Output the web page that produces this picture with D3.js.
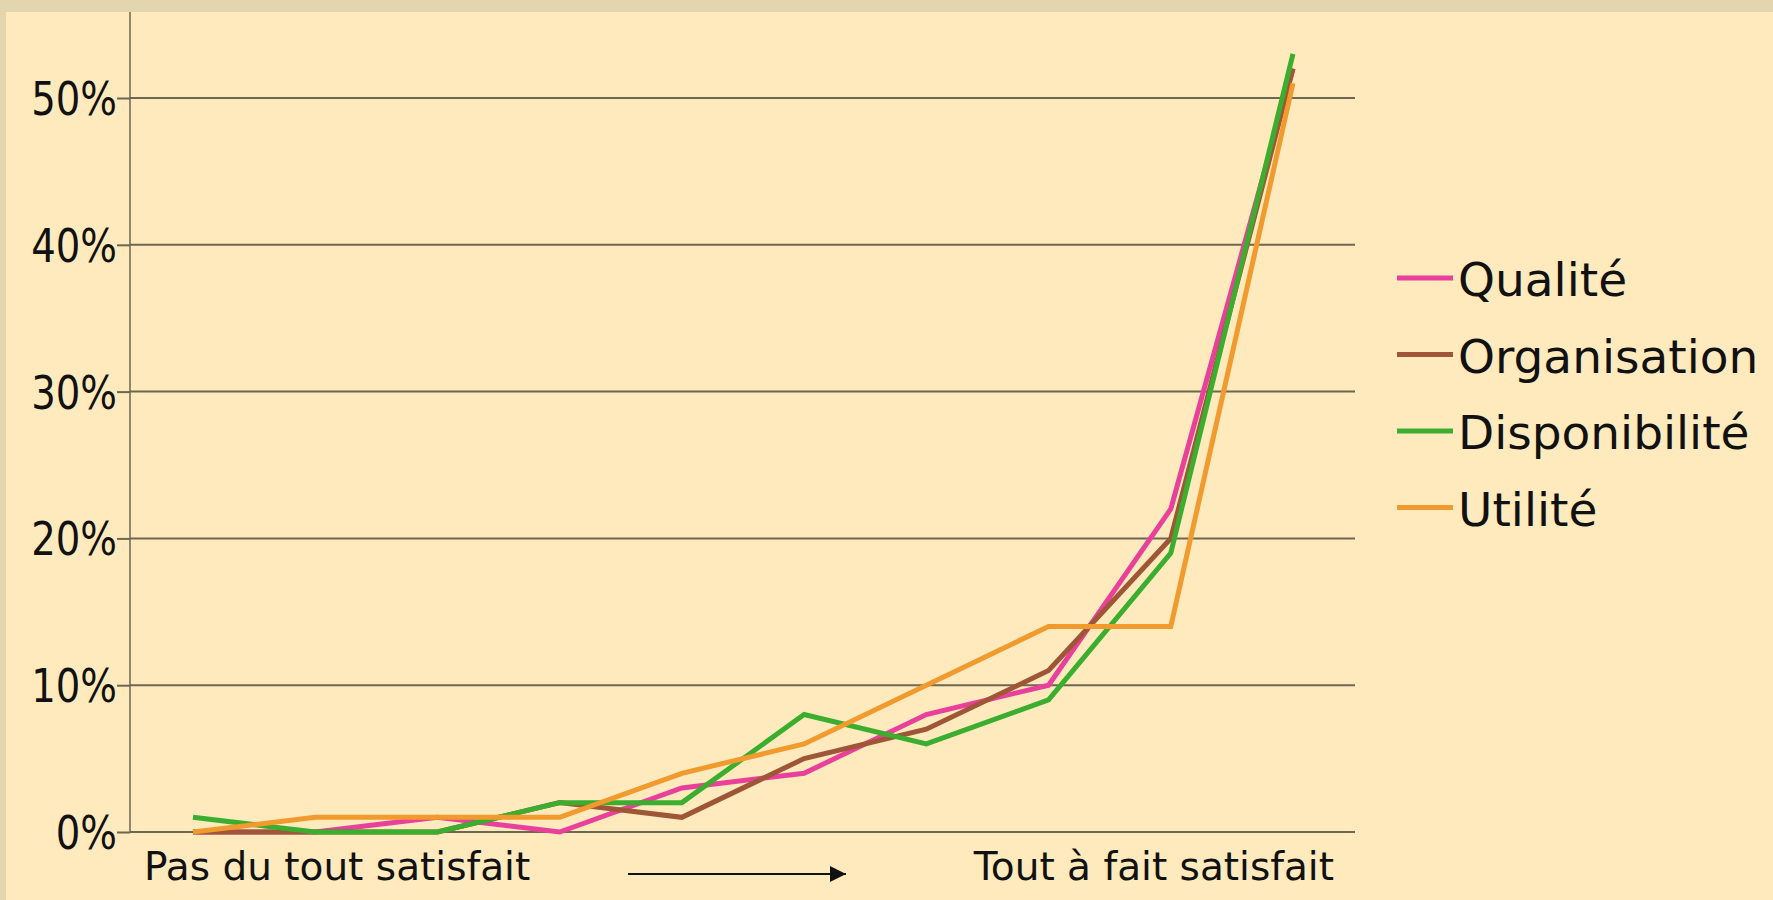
<!DOCTYPE html>
<html>
<head>
  <meta charset="utf-8">
  <script src="https://cdn.jsdelivr.net/npm/d3@7"></script>
  <style>
    html, body { margin: 0; padding: 0; background: #e3d5ae; }
    svg { display: block; }
    text { font-family: "DejaVu Sans", sans-serif; fill: #111; }
  </style>
</head>
<body>
<script>
  // satisfaction levels, from "pas du tout" to "tout à fait"
  var levels = [1, 2, 3, 4, 5, 6, 7, 8, 9, 10];

  // share of answers (%) per level
  var qualite       = [0, 0, 1, 0, 3, 4, 8, 10, 22, 52];
  var organisation  = [0, 0, 0, 2, 1, 5, 7, 11, 20, 52];
  var disponibilite = [1, 0, 0, 2, 2, 8, 6, 9, 19, 53];
  var utilite       = [0, 1, 1, 1, 4, 6, 10, 14, 14, 51];

  var seriesNames = ["Qualité", "Organisation", "Disponibilité", "Utilité"];
  var yTicks = [0, 10, 20, 30, 40, 50];
  var leftLabel = "Pas du tout satisfait";
  var rightLabel = "Tout à fait satisfait";

  var colors = ["#e8409b", "#9e5636", "#3bad2f", "#f19a2d"];

  var series = [qualite, organisation, disponibilite, utilite].map(function (vals, i) {
    return { name: seriesNames[i], color: colors[i], values: vals };
  });

  var width = 1773, height = 900;

  var svg = d3.select("body").append("svg")
      .attr("width", width)
      .attr("height", height);

  // cream panel over the tan frame
  svg.append("rect")
      .attr("x", 6).attr("y", 12)
      .attr("width", width - 6).attr("height", height - 12)
      .attr("fill", "#feeabc");

  var x = d3.scalePoint().domain(levels).range([193, 1293]);
  var y = d3.scaleLinear().domain([0, 50]).range([832, 98]);

  var axisX = 130, gridEnd = 1355;

  // horizontal gridlines
  svg.append("g").selectAll("line")
      .data(yTicks)
      .enter().append("line")
      .attr("x1", axisX).attr("x2", gridEnd)
      .attr("y1", function (d) { return y(d); })
      .attr("y2", function (d) { return y(d); })
      .attr("stroke", "#6d6650")
      .attr("stroke-width", 2);

  // vertical axis line, up to the top of the panel
  svg.append("line")
      .attr("x1", axisX).attr("x2", axisX)
      .attr("y1", 12).attr("y2", y(0))
      .attr("stroke", "#6d6650")
      .attr("stroke-width", 1.5);

  var yAxis = d3.axisLeft(y)
      .tickValues(yTicks)
      .tickFormat(function (d) { return d + "%"; })
      .tickSize(13)
      .tickPadding(0);

  var gy = svg.append("g")
      .attr("transform", "translate(" + axisX + ",0)")
      .call(yAxis);
  gy.select(".domain").remove();
  gy.selectAll(".tick line").attr("stroke", "#6d6650").attr("stroke-width", 2);
  gy.selectAll(".tick text")
      .attr("x", -13 / 0.84)
      .attr("dy", "0.36em")
      .attr("transform", "scale(0.84,1)")
      .style("font-size", "46px")
      .style("font-family", "'DejaVu Sans', sans-serif")
      .attr("fill", "#111");

  // the four lines
  var line = d3.line()
      .x(function (d, i) { return x(levels[i]); })
      .y(function (d) { return y(d); });

  svg.append("g").selectAll("path")
      .data(series)
      .enter().append("path")
      .attr("d", function (s) { return line(s.values); })
      .attr("fill", "none")
      .attr("stroke", function (s) { return s.color; })
      .attr("stroke-width", 5)
      .attr("stroke-linejoin", "miter");

  // x labels and arrow
  svg.append("text")
      .attr("x", 144).attr("y", 880)
      .style("font-size", "39px")
      .text(leftLabel);

  svg.append("text")
      .attr("x", 1334).attr("y", 880)
      .attr("text-anchor", "end")
      .style("font-size", "39px")
      .text(rightLabel);

  svg.append("defs").append("marker")
      .attr("id", "arrow")
      .attr("viewBox", "0 0 10 10")
      .attr("refX", 10).attr("refY", 5)
      .attr("markerWidth", 8).attr("markerHeight", 8)
      .attr("markerUnits", "strokeWidth")
      .attr("orient", "auto")
    .append("path")
      .attr("d", "M0,0 L10,5 L0,10 Z")
      .attr("fill", "#111");

  svg.append("line")
      .attr("x1", 628).attr("x2", 846)
      .attr("y1", 874).attr("y2", 874)
      .attr("stroke", "#111")
      .attr("stroke-width", 2)
      .attr("marker-end", "url(#arrow)");

  // legend
  var legend = svg.append("g").selectAll("g")
      .data(series)
      .enter().append("g")
      .attr("transform", function (d, i) { return "translate(1397," + (278 + i * 76.5) + ")"; });

  legend.append("line")
      .attr("x1", 0).attr("x2", 56)
      .attr("y1", 0).attr("y2", 0)
      .attr("stroke", function (d) { return d.color; })
      .attr("stroke-width", 5);

  legend.append("text")
      .attr("x", 61).attr("y", 18)
      .style("font-size", "47px")
      .text(function (d) { return d.name; });
</script>
</body>
</html>
